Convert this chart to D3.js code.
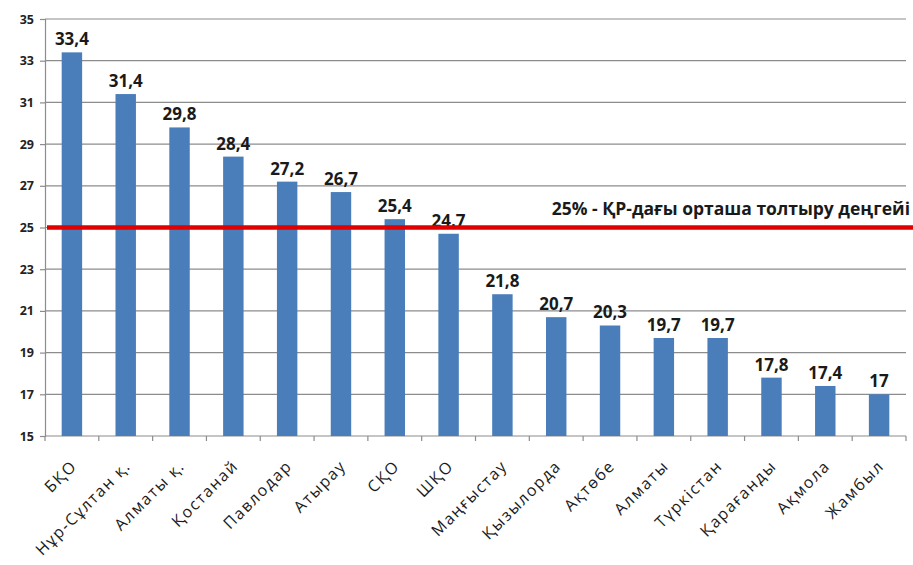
<!DOCTYPE html>
<html><head><meta charset="utf-8">
<script src="https://cdn.jsdelivr.net/npm/d3@7"></script>
<style>body{margin:0;background:#fff}</style>
</head><body>
<svg id="c" width="913" height="565"></svg>
<script>
const categories = ["БҚО","Нұр-Сұлтан қ.","Алматы қ.","Қостанай","Павлодар","Атырау","СҚО","ШҚО","Маңғыстау","Қызылорда","Ақтөбе","Алматы","Түркістан","Қарағанды","Ақмола","Жамбыл"];
const values = [33.4,31.4,29.8,28.4,27.2,26.7,25.4,24.7,21.8,20.7,20.3,19.7,19.7,17.8,17.4,17];
const valueLabels = ["33,4","31,4","29,8","28,4","27,2","26,7","25,4","24.7","21,8","20,7","20,3","19,7","19,7","17,8","17,4","17"];
const yTicks = [15,17,19,21,23,25,27,29,31,33,35];
const avgValue = 25;
const avgLabel = "25% - ҚР-дағы орташа толтыру деңгейі";

const svg = d3.select("#c");
const L = 45, R = 906, T = 19, B = 436;
const x = d3.scaleBand().domain(categories).range([L, R]).paddingInner(0.62).paddingOuter(0.31);
const xb = d3.scaleBand().domain(categories).range([L, R]);
const y = d3.scaleLinear().domain([15, 35]).range([B, T]);

// gridlines
svg.append("g").selectAll("line").data(yTicks.slice(1)).join("line")
  .attr("x1", L).attr("x2", R).attr("y1", d => y(d)).attr("y2", d => y(d))
  .attr("stroke", "#8c8c8c").attr("stroke-width", 1.2);

// y axis
const ya = svg.append("g").attr("transform", `translate(${L},0)`)
  .call(d3.axisLeft(y).tickValues(yTicks).tickSize(5).tickPadding(6).tickFormat(d3.format("d")));
ya.select(".domain").attr("stroke", "#8c8c8c").attr("stroke-width", 1.2);
ya.selectAll(".tick line").attr("stroke", "#8c8c8c").attr("stroke-width", 1.2);
ya.selectAll("text").attr("font-family", "Open Sans, sans-serif").attr("font-size", 12.5).attr("font-weight", "bold").attr("fill", "#222");

// x axis line and ticks
const xa = svg.append("g").attr("transform", `translate(0,${B})`);
xa.append("line").attr("x1", L).attr("x2", R).attr("stroke", "#8c8c8c").attr("stroke-width", 1.2);
xa.selectAll("line.t").data(categories).join("line").attr("class","t")
  .attr("x1", d => xb(d) + xb.bandwidth()).attr("x2", d => xb(d) + xb.bandwidth())
  .attr("y1", 0).attr("y2", 5).attr("stroke", "#8c8c8c").attr("stroke-width", 1.2);
xa.append("line").attr("x1", L).attr("x2", L).attr("y1", 0).attr("y2", 5).attr("stroke", "#8c8c8c").attr("stroke-width", 1.2);

// bars
svg.append("g").selectAll("rect").data(values).join("rect")
  .attr("x", (d,i) => x(categories[i])).attr("width", x.bandwidth())
  .attr("y", d => y(d)).attr("height", d => B - y(d))
  .attr("fill", "#4a7ebb");

// value labels
svg.append("g").selectAll("text").data(values).join("text")
  .attr("x", (d,i) => x(categories[i]) + x.bandwidth()/2)
  .attr("y", d => y(d) - 7)
  .attr("text-anchor", "middle")
  .attr("font-family", "Open Sans, sans-serif").attr("font-size", 17).attr("font-weight", "bold")
  .attr("fill", "#1a1a1a")
  .text((d,i) => valueLabels[i]);

// category labels
svg.append("g").selectAll("text").data(categories).join("text")
  .attr("transform", d => `translate(${xb(d) + xb.bandwidth()/2 + 6},${B + 31}) rotate(-45)`)
  .attr("text-anchor", "end")
  .attr("font-family", "Open Sans, sans-serif").attr("font-size", 16)
  .attr("letter-spacing", 1.6)
  .attr("fill", "#1a1a1a")
  .text(d => d);

// average line
svg.append("line").attr("x1", L + 2).attr("x2", 913).attr("y1", y(avgValue)).attr("y2", y(avgValue))
  .attr("stroke", "#e00000").attr("stroke-width", 4.5);
svg.append("text").attr("x", 910).attr("y", y(avgValue) - 13)
  .attr("text-anchor", "end")
  .attr("font-family", "Open Sans, sans-serif").attr("font-size", 17.5).attr("font-weight", "bold")
  .attr("fill", "#1a1a1a").text(avgLabel);
</script>
</body></html>
